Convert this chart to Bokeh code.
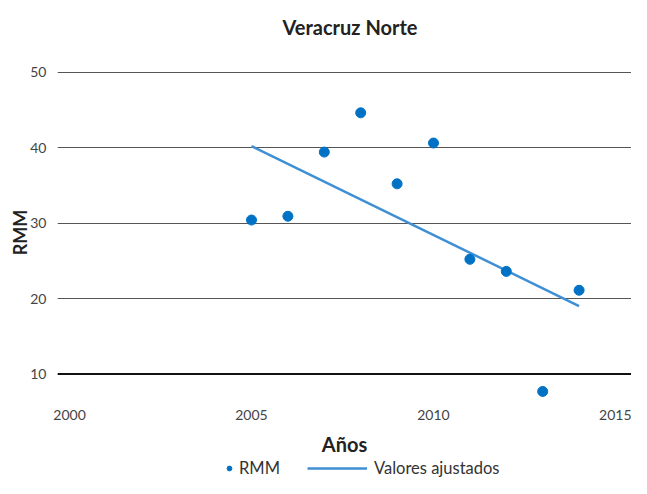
from bokeh.plotting import figure
from bokeh.layouts import column
from bokeh.models import Legend, LegendItem, Span, FixedTicker, Range1d
from bokeh.embed import file_html
from bokeh.resources import INLINE

years = [2005, 2006, 2007, 2008, 2009, 2010, 2011, 2012, 2013, 2014]
rmm = [30.4, 30.9, 39.4, 44.6, 35.2, 40.6, 25.2, 23.6, 7.7, 21.1]
fit_years = [2005, 2014]
fit_values = [40.2, 19.0]
x_ticks = [2000, 2005, 2010, 2015]
y_ticks = [10, 20, 30, 40, 50]
baseline = 10
title_text = "Veracruz Norte"

FONT = "Lato"
DOT = "#0072C6"
FIT = "#3F8FD4"


def blank(fig):
    fig.axis.visible = False
    fig.grid.visible = False
    fig.outline_line_color = None
    fig.background_fill_color = "white"
    fig.border_fill_color = "white"


# title strip
tg = figure(width=631, height=50, output_backend="svg", toolbar_location=None,
            x_range=Range1d(0, 1), y_range=Range1d(0, 1), title=title_text,
            min_border_left=0, min_border_right=0,
            min_border_top=48, min_border_bottom=0)
blank(tg)
tg.title.align = "left"
tg.title.offset = 225
tg.title.standoff = 24
tg.title.text_font = FONT
tg.title.text_font_size = "20px"
tg.title.text_font_style = "bold"
tg.title.text_color = "#222222"

# main chart
p = figure(width=631, height=408, output_backend="svg", toolbar_location=None,
           x_range=Range1d(1999.67, 2015.44), y_range=Range1d(6.5, 51),
           min_border_left=57, min_border_right=0, min_border_top=14,
           min_border_bottom=58)
p.outline_line_color = None
p.background_fill_color = "white"
p.border_fill_color = "white"

xa = p.xaxis[0]
xa.ticker = FixedTicker(ticks=x_ticks)
xa.axis_line_color = None
xa.major_tick_line_color = None
xa.minor_tick_line_color = None
xa.major_label_text_font = FONT
xa.major_label_text_font_size = "14px"
xa.major_label_text_color = "#444444"
xa.major_label_standoff = 3
xa.axis_label = "Años"
xa.axis_label_text_font = FONT
xa.axis_label_text_font_size = "20px"
xa.axis_label_text_font_style = "bold"
xa.axis_label_text_color = "#222222"
xa.axis_label_standoff = 9

ya = p.yaxis[0]
ya.ticker = FixedTicker(ticks=y_ticks)
ya.axis_line_color = None
ya.major_tick_line_color = None
ya.minor_tick_line_color = None
ya.major_label_text_font = FONT
ya.major_label_text_font_size = "14px"
ya.major_label_text_color = "#444444"
ya.major_label_standoff = 5
ya.axis_label = "RMM"
ya.axis_label_text_font = FONT
ya.axis_label_text_font_size = "18px"
ya.axis_label_text_font_style = "bold"
ya.axis_label_text_color = "#222222"
ya.axis_label_standoff = -4

p.xgrid.grid_line_color = None
p.ygrid.ticker = FixedTicker(ticks=y_ticks)
p.ygrid.grid_line_color = "#555555"
p.ygrid.grid_line_width = 1

p.add_layout(Span(location=baseline, dimension="width", line_color="#111111", line_width=2))

p.line(fit_years, fit_values, line_color=FIT, line_width=2.5)
p.scatter(years, rmm, size=10, fill_color=DOT, line_color=DOT)

# legend strip
lg = figure(width=631, height=20, output_backend="svg", toolbar_location=None,
            x_range=Range1d(0, 1), y_range=Range1d(0, 1),
            min_border_left=0, min_border_right=0,
            min_border_top=0, min_border_bottom=0)
blank(lg)
nan = float("nan")
r_dot = lg.scatter(x=[nan], y=[nan], size=9, fill_color=DOT, line_color=DOT)
r_fit = lg.line(x=[nan, nan], y=[nan, nan], line_color=FIT, line_width=2.5)

common = dict(orientation="horizontal", padding=0, margin=0, spacing=0,
              border_line_alpha=0, background_fill_alpha=0,
              label_text_font=FONT, label_text_font_size="16.5px",
              label_text_color="#333333", glyph_height=20, label_height=20)
lg.add_layout(Legend(items=[LegendItem(label="RMM", renderers=[r_dot])],
                     location=(166, 0), glyph_width=12, label_standoff=4, **common))
lg.add_layout(Legend(items=[LegendItem(label="Valores ajustados", renderers=[r_fit])],
                     location=(250, 0), glyph_width=60, label_standoff=7, **common))

layout = column(tg, p, lg, spacing=0)
open("out.html", "w").write(file_html(layout, INLINE))
